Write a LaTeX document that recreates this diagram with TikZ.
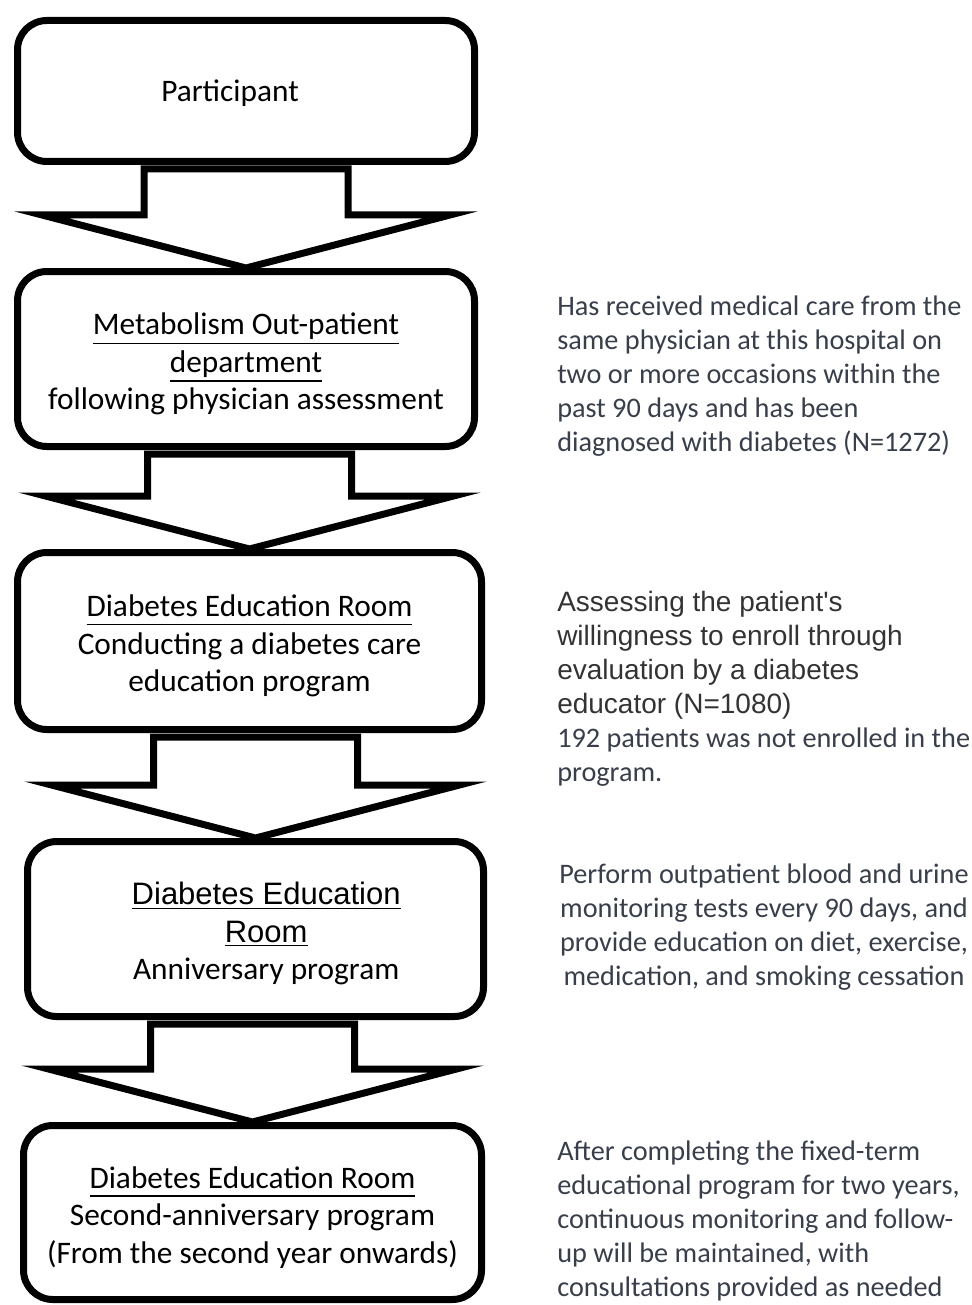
\documentclass[tikz,border=0pt]{standalone}
\usepackage{fontspec}
\setmainfont{Carlito}
\newfontfamily\arialfont{Liberation Sans}
\usetikzlibrary{calc}
\definecolor{notegray}{RGB}{56,62,74}
\definecolor{arialgray}{RGB}{51,51,51}
\newcommand{\stageul}[2][6pt]{\setbox0=\hbox{#2}\leavevmode\rlap{\rule[-#1]{\wd0}{0.9pt}}\box0}
\newcommand{\stagestrut}{\rule{0pt}{24pt}}

\begin{document}
\begin{tikzpicture}[x=0.75pt, y=-0.75pt,
        stage/.style={draw, line width=5.25pt, rounded corners=22pt, align=center,
            font=\fontsize{23.5}{28}\selectfont, inner sep=0pt},
        note/.style={align=left, anchor=west, text=notegray, inner sep=0pt,
            font=\fontsize{21.2}{25.5}\selectfont},
        flowarrow/.style={draw, line width=5.25pt, line join=miter}]
        \useasboundingbox (0,0) rectangle (971,1305);

        % Stages
        \node[stage, minimum width=342.75pt, minimum height=105.75pt] (part) at (246,91) {\rule{0pt}{19pt}Participant\kern24pt};
        \node[stage, minimum width=342.75pt, minimum height=131.25pt] (meta) at (246,359)
            {\stagestrut\stageul[7pt]{Metabolism Out-patient}\\\stageul[7pt]{department}\\following physician assessment};
        \node[stage, minimum width=348pt, minimum height=132.75pt] (room) at (249.5,641)
            {\stagestrut\stageul{Diabetes Education Room}\\Conducting a diabetes care\\education program};
        \node[stage, minimum width=342pt, minimum height=131.25pt] (anniv) at (255.5,929)
            {\stagestrut\kern16pt{\arialfont\fontsize{23.25}{28}\selectfont\stageul[3pt]{Diabetes Education}}\\
             \kern16pt{\arialfont\fontsize{23.25}{28}\selectfont\stageul[3pt]{Room}}\\\kern16pt Anniversary program};
        \node[stage, minimum width=343.5pt, minimum height=130.5pt] (second) at (252.5,1212.5)
            {\stagestrut\stageul{Diabetes Education Room}\\Second-anniversary program\\(From the second year onwards)};

        % Block arrows between stages
        \foreach \a/\b in {part/meta, meta/room, room/anniv, anniv/second}
            \draw[flowarrow] ($(\a.south -| \b.north)+(-102,4)$) -- ($(\b.north)+(-102,-53)$)
                -- ($(\b.north)+(-204,-53)$) -- (\b.north) -- ($(\b.north)+(204,-53)$)
                -- ($(\b.north)+(102,-53)$) -- ($(\a.south -| \b.north)+(102,4)$) -- cycle;

        % Notes
        \node[note] (metanote) at (557,376.5) {Has received medical care from the\\
            same physician at this hospital on\\two or more occasions within the\\
            past 90 days and has been\\diagnosed with diabetes (N=1272)};
        \node[note] (roomnote) at (557,688.5) {{\arialfont\fontsize{21}{25.5}\selectfont\color{arialgray}Assessing the patient's}\\
            {\arialfont\fontsize{21}{25.5}\selectfont\color{arialgray}willingness to enroll through}\\
            {\arialfont\fontsize{21}{25.5}\selectfont\color{arialgray}evaluation by a diabetes}\\
            {\arialfont\fontsize{21}{25.5}\selectfont\color{arialgray}educator (N=1080)}\\
            192 patients was not enrolled in the\\program.};
        \node[note, align=center, anchor=center] (annivnote) at (764,927.5) {Perform outpatient blood and urine\\
            monitoring tests every 90 days, and\\provide education on diet, exercise,\\
            medication, and smoking cessation};
        \node[note] (secondnote) at (557,1220.5) {After completing the fixed-term\\
            educational program for two years,\\continuous monitoring and follow-\\
            up will be maintained, with\\consultations provided as needed};
\end{tikzpicture}
\end{document}
